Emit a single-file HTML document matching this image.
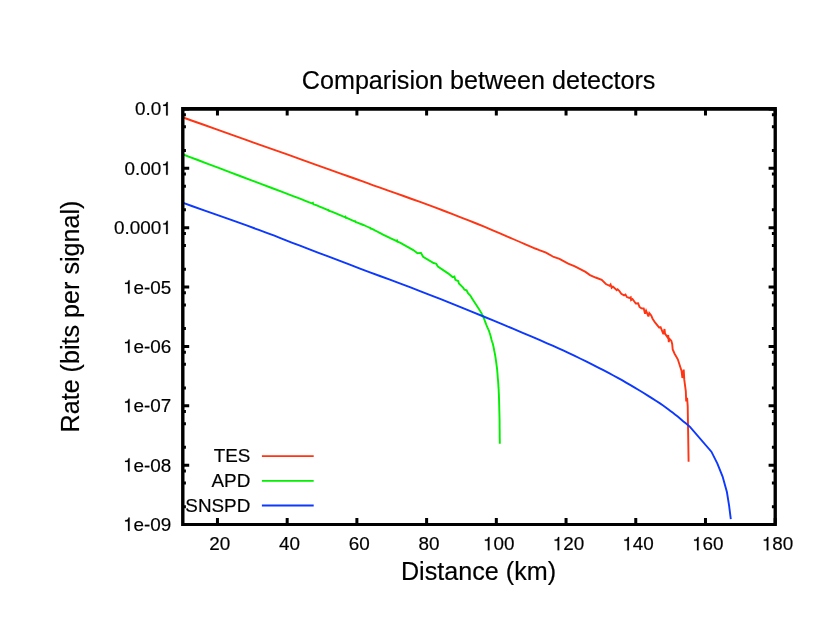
<!DOCTYPE html>
<html><head><meta charset="utf-8"><title>Comparision between detectors</title>
<style>
html,body{margin:0;padding:0;background:#fff;}
svg{display:block;will-change:transform;}
text{font-family:"Liberation Sans",sans-serif;fill:#000;stroke:#000;stroke-width:0.18px;stroke-linejoin:round;}
.t{font-size:18.85px;}
.l{font-size:25.15px;}
.g{fill:#000;stroke:#000;stroke-width:9.5;stroke-linejoin:round;}
</style></head><body>
<svg width="830" height="642" viewBox="0 0 830 642">
<rect width="830" height="642" fill="#fff"/>
<polyline points="183.2,117.5 191.5,120.5 203.0,124.5 216.6,129.4 231.3,134.6 246.1,139.9 260.0,144.8 273.6,149.6 287.9,154.7 302.3,159.9 316.2,164.8 328.9,169.4 340.0,173.3 348.9,176.5 356.0,179.0 362.0,181.2 367.5,183.2 373.3,185.3 380.0,187.7 387.6,190.4 395.5,193.2 403.6,196.0 411.8,199.0 420.1,201.9 428.2,204.9 436.3,207.9 444.4,211.0 452.6,214.1 460.7,217.3 468.6,220.4 476.4,223.5 484.2,226.7 492.2,230.1 500.0,233.4 507.4,236.6 514.2,239.5 520.0,242.0 524.8,244.1 528.9,245.8 532.4,247.3 535.2,248.5 537.5,249.4 539.3,250.2 546.0,252.7 553.7,257.0 559.5,258.9 568.2,263.7 574.9,266.4 585.5,271.9 590.0,275.1 595.6,277.5 601.7,279.8 605.9,284.0 609.6,285.9 610.6,284.5 611.7,287.8 612.9,286.6 615.2,288.7 616.6,290.1 617.6,289.2 619.4,291.0 621.3,293.8 624.1,295.4 625.5,294.5 626.9,297.1 629.3,298.0 630.7,297.3 631.1,300.1 632.5,299.0 635.8,303.5 638.1,303.2 639.5,306.9 641.4,308.3 643.7,308.5 645.1,313.7 646.1,310.7 648.4,316.4 649.3,313.1 651.2,315.4 652.6,318.7 655.0,322.4 659.2,327.6 660.6,327.1 663.4,334.1 664.5,329.0 665.0,333.6 667.6,337.4 668.2,335.0 668.8,342.1 669.4,338.8 671.3,340.7 672.2,343.9 672.7,349.5 674.6,353.7 677.8,359.3 681.5,370.6 682.4,378.0 683.7,369.6 684.3,379.9 685.8,391.1 686.2,401.4 687.1,397.7 687.7,406.1 688.0,424.8 688.6,461.8" fill="none" stroke="#ff3412" stroke-width="1.9" stroke-linejoin="miter" stroke-miterlimit="3" stroke-linecap="butt"/>
<polyline points="183.2,154.5 189.3,156.8 197.8,160.0 207.8,163.8 218.7,167.9 229.7,172.1 240.0,176.0 250.2,179.8 260.9,183.9 271.8,188.0 282.2,191.9 291.8,195.6 300.0,198.7 306.6,201.3 311.8,203.4 312.0,203.4 312.9,202.9 313.4,204.3 316.2,205.2 320.2,206.8 324.0,208.4 327.4,209.8 328.3,210.2 328.3,209.3 328.8,210.7 333.0,212.1 337.7,214.1 342.4,216.1 344.5,217.0 345.4,216.5 345.9,217.9 346.9,218.0 351.1,219.8 354.0,221.0 354.9,221.4 354.9,220.5 355.4,221.9 358.1,222.8 360.9,224.0 363.4,225.0 365.7,226.0 368.0,227.0 369.4,227.7 370.3,228.1 370.3,227.2 370.8,228.7 372.7,229.2 374.9,230.4 377.1,231.5 379.3,232.7 381.6,233.9 384.0,235.1 386.7,236.4 389.8,237.9 392.9,239.3 395.8,240.7 396.1,240.9 397.0,240.4 397.5,241.8 398.2,241.9 400.0,242.7 413.3,250.1 417.5,253.2 421.0,252.9 423.1,256.7 433.6,263.0 436.2,263.7 437.9,266.5 448.4,273.6 452.6,277.1 454.4,276.4 455.4,279.9 458.2,281.0 458.9,283.4 463.1,287.6 464.5,289.7 466.6,290.4 468.0,293.2 470.1,295.3 470.6,296.1 471.2,297.1 472.0,298.4 472.9,299.7 473.7,301.1 474.5,302.3 475.3,303.5 476.0,304.6 476.8,305.8 477.6,307.0 478.4,308.2 479.1,309.3 479.8,310.4 480.4,311.5 481.1,312.5 481.7,313.6 482.3,314.8 482.9,316.0 483.5,317.4 484.1,318.9 484.7,320.5 485.3,322.1 485.9,323.6 486.4,325.0 486.9,326.2 487.4,327.3 487.9,328.3 488.3,329.3 488.8,330.3 489.2,331.5 489.6,332.8 490.1,334.3 490.5,335.8 490.9,337.3 491.3,338.8 491.6,340.0 491.9,341.0 492.1,341.7 492.3,342.3 492.6,342.9 492.8,343.8 493.1,345.1 493.5,346.8 493.9,348.8 494.3,351.0 494.8,353.4 495.2,355.7 495.6,358.0 495.9,360.2 496.2,362.4 496.5,364.6 496.8,366.9 497.1,369.2 497.3,371.5 497.5,373.9 497.7,376.5 497.9,379.0 498.1,381.5 498.3,383.9 498.4,386.0 498.5,387.7 498.6,388.9 498.7,390.0 498.7,391.2 498.8,392.8 498.9,395.0 499.0,397.9 499.1,401.2 499.2,404.9 499.3,408.9 499.4,413.0 499.5,417.1 499.6,421.6 499.6,426.6 499.7,431.8 499.7,436.6 499.8,440.8 499.8,443.7" fill="none" stroke="#00f000" stroke-width="1.9" stroke-linejoin="miter" stroke-miterlimit="3" stroke-linecap="butt"/>
<polyline points="183.2,202.9 191.8,206.0 204.1,210.3 218.4,215.4 233.3,220.7 247.3,225.7 258.8,229.9 267.4,233.1 274.4,235.7 280.4,238.1 286.1,240.3 292.4,242.8 300.0,245.7 308.9,249.1 318.6,252.8 328.8,256.7 339.3,260.7 349.8,264.7 360.0,268.6 370.0,272.3 379.9,276.0 389.9,279.7 399.8,283.4 409.9,287.2 420.0,291.1 430.3,295.1 440.8,299.2 451.3,303.4 461.8,307.7 472.2,311.9 482.3,316.0 492.5,320.2 502.7,324.4 512.9,328.7 522.7,332.8 531.8,336.7 540.0,340.2 547.1,343.3 553.2,345.9 558.6,348.4 563.7,350.7 568.9,353.1 574.3,355.7 580.1,358.5 586.1,361.4 592.0,364.4 597.8,367.3 603.4,370.2 608.6,372.9 613.4,375.5 617.8,377.9 622.0,380.2 626.1,382.6 630.1,384.9 634.3,387.4 638.7,390.0 643.3,392.8 647.8,395.6 652.2,398.4 656.3,401.0 660.0,403.4 663.1,405.5 665.8,407.4 668.2,409.2 670.4,410.9 672.6,412.6 675.0,414.5 677.7,416.6 680.6,419.0 683.4,421.4 686.1,423.6 688.4,425.5 690.0,426.9 711.4,451.7 717.4,463.7 722.6,476.6 726.9,492.0 729.1,505.7 730.8,519.1" fill="none" stroke="#0c38ff" stroke-width="1.9" stroke-linejoin="miter" stroke-miterlimit="3" stroke-linecap="butt"/>
<line x1="261.9" y1="456.1" x2="313.7" y2="456.1" stroke="#ff3412" stroke-width="1.9"/>
<text class="t" x="250.3" y="462.4" text-anchor="end">TES</text>
<line x1="261.9" y1="480.9" x2="313.7" y2="480.9" stroke="#00f000" stroke-width="1.9"/>
<text class="t" x="250.3" y="487.3" text-anchor="end">APD</text>
<line x1="261.9" y1="505.5" x2="313.7" y2="505.5" stroke="#0c38ff" stroke-width="1.9"/>
<text class="t" x="250.3" y="512.1" text-anchor="end">SNSPD</text>
<text class="t" x="209.33" y="550.3">20</text>
<text class="t" x="279.05" y="550.3">40</text>
<text class="t" x="348.76" y="550.3">60</text>
<text class="t" x="418.48" y="550.3">80</text>
<path class="g" transform="translate(482.96,550.3) scale(0.01885)" d="M259,-505V0H347V-709H289C258,-600 238,-585 102,-568V-505Z"/><text class="t" x="493.44" y="550.3">00</text>
<path class="g" transform="translate(552.68,550.3) scale(0.01885)" d="M259,-505V0H347V-709H289C258,-600 238,-585 102,-568V-505Z"/><text class="t" x="563.16" y="550.3">20</text>
<path class="g" transform="translate(622.39,550.3) scale(0.01885)" d="M259,-505V0H347V-709H289C258,-600 238,-585 102,-568V-505Z"/><text class="t" x="632.87" y="550.3">40</text>
<path class="g" transform="translate(692.11,550.3) scale(0.01885)" d="M259,-505V0H347V-709H289C258,-600 238,-585 102,-568V-505Z"/><text class="t" x="702.59" y="550.3">60</text>
<path class="g" transform="translate(761.83,550.3) scale(0.01885)" d="M259,-505V0H347V-709H289C258,-600 238,-585 102,-568V-505Z"/><text class="t" x="772.31" y="550.3">80</text>
<text class="t" x="135.02" y="115.4">0.0</text><path class="g" transform="translate(161.22,115.4) scale(0.01885)" d="M259,-505V0H347V-709H289C258,-600 238,-585 102,-568V-505Z"/>
<text class="t" x="124.54" y="174.8">0.00</text><path class="g" transform="translate(161.22,174.8) scale(0.01885)" d="M259,-505V0H347V-709H289C258,-600 238,-585 102,-568V-505Z"/>
<text class="t" x="114.06" y="234.1">0.000</text><path class="g" transform="translate(161.22,234.1) scale(0.01885)" d="M259,-505V0H347V-709H289C258,-600 238,-585 102,-568V-505Z"/>
<path class="g" transform="translate(123.10,293.5) scale(0.01885)" d="M259,-505V0H347V-709H289C258,-600 238,-585 102,-568V-505Z"/><text class="t" x="133.58" y="293.5">e-05</text>
<path class="g" transform="translate(123.10,352.8) scale(0.01885)" d="M259,-505V0H347V-709H289C258,-600 238,-585 102,-568V-505Z"/><text class="t" x="133.58" y="352.8">e-06</text>
<path class="g" transform="translate(123.10,412.2) scale(0.01885)" d="M259,-505V0H347V-709H289C258,-600 238,-585 102,-568V-505Z"/><text class="t" x="133.58" y="412.2">e-07</text>
<path class="g" transform="translate(123.10,471.5) scale(0.01885)" d="M259,-505V0H347V-709H289C258,-600 238,-585 102,-568V-505Z"/><text class="t" x="133.58" y="471.5">e-08</text>
<path class="g" transform="translate(123.10,530.9) scale(0.01885)" d="M259,-505V0H347V-709H289C258,-600 238,-585 102,-568V-505Z"/><text class="t" x="133.58" y="530.9">e-09</text>
<path d="M217.46,524.5 v-6.6 M217.46,109.0 v6.6 M287.18,524.5 v-6.6 M287.18,109.0 v6.6 M356.89,524.5 v-6.6 M356.89,109.0 v6.6 M426.61,524.5 v-6.6 M426.61,109.0 v6.6 M496.33,524.5 v-6.6 M496.33,109.0 v6.6 M566.05,524.5 v-6.6 M566.05,109.0 v6.6 M635.76,524.5 v-6.6 M635.76,109.0 v6.6 M705.48,524.5 v-6.6 M705.48,109.0 v6.6 M775.20,524.5 v-6.6 M775.20,109.0 v6.6 M182.6,109.00 h6.6 M775.2,109.00 h-6.6 M182.6,150.49 h3.3 M775.2,150.49 h-3.3 M182.6,126.87 h3.3 M775.2,126.87 h-3.3 M182.6,114.75 h3.3 M775.2,114.75 h-3.3 M182.6,168.36 h6.6 M775.2,168.36 h-6.6 M182.6,209.85 h3.3 M775.2,209.85 h-3.3 M182.6,186.23 h3.3 M775.2,186.23 h-3.3 M182.6,174.11 h3.3 M775.2,174.11 h-3.3 M182.6,227.71 h6.6 M775.2,227.71 h-6.6 M182.6,269.20 h3.3 M775.2,269.20 h-3.3 M182.6,245.58 h3.3 M775.2,245.58 h-3.3 M182.6,233.47 h3.3 M775.2,233.47 h-3.3 M182.6,287.07 h6.6 M775.2,287.07 h-6.6 M182.6,328.56 h3.3 M775.2,328.56 h-3.3 M182.6,304.94 h3.3 M775.2,304.94 h-3.3 M182.6,292.82 h3.3 M775.2,292.82 h-3.3 M182.6,346.43 h6.6 M775.2,346.43 h-6.6 M182.6,387.92 h3.3 M775.2,387.92 h-3.3 M182.6,364.30 h3.3 M775.2,364.30 h-3.3 M182.6,352.18 h3.3 M775.2,352.18 h-3.3 M182.6,405.79 h6.6 M775.2,405.79 h-6.6 M182.6,447.27 h3.3 M775.2,447.27 h-3.3 M182.6,423.65 h3.3 M775.2,423.65 h-3.3 M182.6,411.54 h3.3 M775.2,411.54 h-3.3 M182.6,465.14 h6.6 M775.2,465.14 h-6.6 M182.6,506.63 h3.3 M775.2,506.63 h-3.3 M182.6,483.01 h3.3 M775.2,483.01 h-3.3 M182.6,470.90 h3.3 M775.2,470.90 h-3.3 M182.6,524.50 h6.6 M775.2,524.50 h-6.6" stroke="#000" stroke-width="3.0" fill="none"/>
<path d="M181.1,107.05H776.9V525.95H181.1Z M184.5,110.85V522.95H773.55V110.85Z" fill="#000" fill-rule="evenodd"/>
<text class="l" x="478.6" y="89.0" text-anchor="middle">Comparision between detectors</text>
<text class="l" x="478.5" y="580.0" text-anchor="middle">Distance (km)</text>
<text class="l" transform="translate(79.1,316.5) rotate(-90)" text-anchor="middle">Rate (bits per signal)</text>
</svg></body></html>
